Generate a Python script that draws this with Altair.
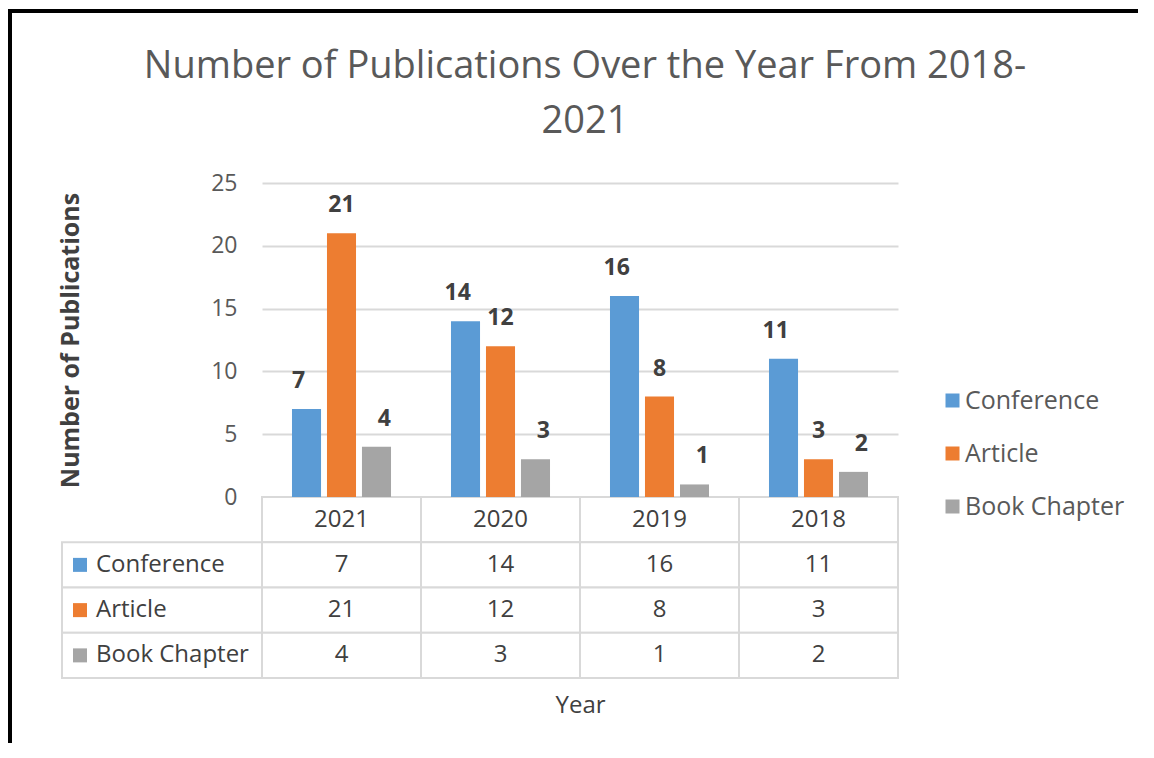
import altair as alt
import pandas as pd

years = ["2021", "2020", "2019", "2018"]
series = ["Conference", "Article", "Book Chapter"]
conference = [7, 14, 16, 11]
article = [21, 12, 8, 3]
book_chapter = [4, 3, 1, 2]
colors = ["#5B9BD5", "#ED7D31", "#A5A5A5"]
y_ticks = [0, 5, 10, 15, 20, 25]
title_lines = ["Number of Publications Over the Year From 2018-", "2021"]

FONT = "Open Sans"
W, H = 636, 314
TABLE_H = 181

series_values = {"Conference": conference, "Article": article, "Book Chapter": book_chapter}
rows = []
for s in series:
    for yr, v in zip(years, series_values[s]):
        rows.append({"Year": yr, "Series": s, "Value": v})
df = pd.DataFrame(rows)

header = pd.DataFrame({"Year": years, "Row": ["hdr"] * len(years), "Text": years})
cells = pd.DataFrame({"Year": df["Year"], "Row": df["Series"], "Text": df["Value"].astype(str)})
table = pd.concat([header, cells], ignore_index=True)
labels = pd.DataFrame({"col": ["label"] * len(series), "Row": series, "Series": series})

xs = alt.Scale(domain=years, paddingInner=0, paddingOuter=0)
xoff = alt.Scale(domain=series, paddingInner=0.17, paddingOuter=0.857)
ys = alt.Scale(domain=[0, 25])
color_scale = alt.Scale(domain=series, range=colors)
row_scale = alt.Scale(domain=["hdr"] + series, range=[H, H + TABLE_H], paddingInner=0, paddingOuter=0)
lab_scale = alt.Scale(domain=["label"], range=[-200, 0], paddingInner=0, paddingOuter=0)

bars = alt.Chart(df).mark_bar().encode(
    x=alt.X("Year:N", sort=years, scale=xs,
            axis=alt.Axis(labels=False, ticks=False, domain=False, grid=False, title="Year",
                          titleY=208, titleBaseline="middle", titleFontSize=24,
                          titleFontWeight="normal", titleColor="#404040", titleFont=FONT)),
    xOffset=alt.XOffset("Series:N", sort=series, scale=xoff),
    y=alt.Y("Value:Q", scale=ys,
            axis=alt.Axis(values=y_ticks, grid=True, gridColor="#D9D9D9", gridWidth=2,
                          domain=False, ticks=False, labelFontSize=23, labelColor="#595959",
                          labelPadding=25, labelFont=FONT,
                          title="Number of Publications", titleFontSize=25,
                          titleFontWeight="bold", titleColor="#404040", titleFont=FONT,
                          titleX=-192, titleY=157, titleAngle=270, titleAlign="center",
                          titleBaseline="middle")),
    color=alt.Color("Series:N", sort=series, scale=color_scale,
                    legend=alt.Legend(orient="none", legendX=678, legendY=205, title=None,
                                      symbolType="square", symbolSize=196, symbolStrokeWidth=0,
                                      labelFontSize=25, labelColor="#595959", labelFont=FONT,
                                      rowPadding=27, labelOffset=0)),
)

bar_text = alt.Chart(df).mark_text(baseline="bottom", dy=-16, fontSize=23, fontWeight="bold",
                                   color="#404040", font=FONT).encode(
    x=alt.X("Year:N", sort=years, scale=xs, axis=None),
    xOffset=alt.XOffset("Series:N", sort=series, scale=xoff),
    y=alt.Y("Value:Q", scale=ys, axis=None),
    text=alt.Text("Value:Q"),
)

cell_rect = alt.Chart(table).mark_rect(fill="white", stroke="#D9D9D9", strokeWidth=2).encode(
    x=alt.X("Year:N", sort=years, scale=xs, axis=None),
    y=alt.Y("Row:N", scale=row_scale, axis=None),
)
cell_text = alt.Chart(table).mark_text(fontSize=24, color="#404040", font=FONT).encode(
    x=alt.X("Year:N", sort=years, scale=xs, axis=None),
    y=alt.Y("Row:N", scale=row_scale, axis=None),
    text=alt.Text("Text:N"),
)

lab_rect = alt.Chart(labels).mark_rect(fill="white", stroke="#D9D9D9", strokeWidth=2).encode(
    x=alt.X("col:N", scale=lab_scale, axis=None),
    y=alt.Y("Row:N", scale=row_scale, axis=None),
)
# positions measured from the centre of the label column (band centre)
lab_sq = alt.Chart(labels).mark_square(size=196, xOffset=-82, opacity=1).encode(
    x=alt.X("col:N", scale=lab_scale, axis=None),
    y=alt.Y("Row:N", scale=row_scale, axis=None),
    color=alt.Color("Series:N", sort=series, scale=color_scale),
)
lab_text = alt.Chart(labels).mark_text(align="left", dx=-66, fontSize=24, color="#404040",
                                       font=FONT).encode(
    x=alt.X("col:N", scale=lab_scale, axis=None),
    y=alt.Y("Row:N", scale=row_scale, axis=None),
    text=alt.Text("Series:N"),
)

frame_df = pd.DataFrame({"k": [0]})
frame_top = alt.Chart(frame_df).mark_rule(color="black", strokeWidth=4).encode(
    x=alt.value(-254), x2=alt.value(880), y=alt.value(-172))
frame_left = alt.Chart(frame_df).mark_rule(color="black", strokeWidth=4).encode(
    x=alt.value(-252), y=alt.value(-174), y2=alt.value(570))

chart = alt.layer(
    cell_rect, cell_text, lab_rect, lab_sq, lab_text, bars, bar_text, frame_top, frame_left
).resolve_scale(
    x="independent", y="independent", xOffset="independent"
).properties(
    width=W, height=H,
    background="white",
    title=alt.Title(title_lines, fontSize=38, font=FONT, color="#595959", fontWeight="normal",
                    lineHeight=55, offset=-134, anchor="middle", dx=5, frame="group"),
    autosize=alt.AutoSizeParams(type="none"),
    padding={"left": 254, "top": 175, "right": 240, "bottom": 246},
).configure_view(stroke="transparent", strokeWidth=0)

chart.save("out.html", embed_options={"renderer": "svg", "actions": False})
